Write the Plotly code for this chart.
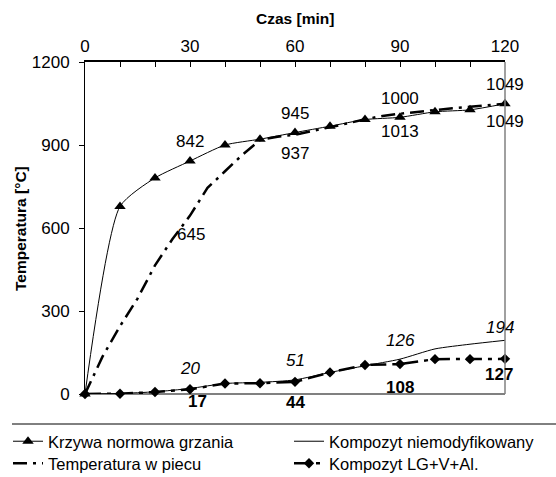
import plotly.graph_objects as go

# ---------------- data ----------------
time_iso = [0, 10, 20, 30, 40, 50, 60, 70, 80, 90, 100, 110, 120]
iso_curve = [0, 678, 781, 842, 900, 921, 945, 968, 992, 1000, 1020, 1027, 1049]

time_furnace = [0, 5, 10, 15, 20, 25, 30, 35, 40, 45, 50, 55, 60,
                65, 70, 75, 80, 85, 90, 95, 100, 105, 110, 115, 120]
furnace = [0, 135, 245, 345, 465, 560, 645, 745, 805, 865, 918, 930, 937,
           950, 965, 978, 993, 1005, 1013, 1020, 1027, 1033, 1038, 1044, 1049]

time_comp = [0, 10, 20, 30, 40, 50, 60, 70, 80, 90, 100, 110, 120]
comp_plain = [0, 2, 8, 20, 38, 42, 51, 78, 102, 126, 163, 180, 194]
comp_lg = [0, 1, 7, 17, 38, 39, 44, 78, 105, 108, 126, 126, 127]

x_ticks = [0, 30, 60, 90, 120]
y_ticks = [0, 300, 600, 900, 1200]

FONT = "Arial, Liberation Sans, sans-serif"
PL, PR, PT, PB = 85, 505, 62, 394          # plot area in pixels
PW, PH = PR - PL, PB - PT


def px_x(p):
    return (p - PL) / PW


def px_y(p):
    return (PB - p) / PH


fig = go.Figure()

fig.add_trace(go.Scatter(
    x=time_iso, y=iso_curve, name="Krzywa normowa grzania",
    mode="lines+markers", line=dict(color="black", width=1, shape="spline", smoothing=0.6),
    marker=dict(symbol="triangle-up", size=10, color="black"),
    cliponaxis=False, legend="legend"))
fig.add_trace(go.Scatter(
    x=time_furnace, y=furnace, name="Temperatura w piecu",
    mode="lines", line=dict(color="black", width=2.5, dash="14px,6px,3px,6px"),
    cliponaxis=False, legend="legend2"))
fig.add_trace(go.Scatter(
    x=time_comp, y=comp_plain, name="Kompozyt niemodyfikowany",
    mode="lines", line=dict(color="black", width=1, shape="spline", smoothing=0.6),
    cliponaxis=False, legend="legend3"))
fig.add_trace(go.Scatter(
    x=time_comp, y=comp_lg, name="Kompozyt LG+V+Al.",
    mode="lines+markers", line=dict(color="black", width=2.5, dash="16px,6px,4px,6px"),
    marker=dict(symbol="diamond", size=8, color="black"),
    cliponaxis=False, legend="legend4"))


# ---------------- data labels ----------------
def label(xs, ys, t, dy, dx=0, style="normal", weight="normal"):
    i = xs.index(t)
    fig.add_annotation(x=t, y=ys[i], text=str(ys[i]), showarrow=False,
                       xshift=dx, yshift=dy, xanchor="center", yanchor="middle",
                       font=dict(family=FONT, size=17, color="black",
                                 style=style, weight=weight))


label(time_iso, iso_curve, 30, 20)
label(time_iso, iso_curve, 60, 19)
label(time_iso, iso_curve, 90, 19)
label(time_iso, iso_curve, 120, 19)
label(time_furnace, furnace, 30, -19, 1)
label(time_furnace, furnace, 60, -19)
label(time_furnace, furnace, 90, -18)
label(time_furnace, furnace, 120, -18)
label(time_comp, comp_plain, 30, 20, 0, style="italic")
label(time_comp, comp_plain, 60, 19, 0, style="italic")
label(time_comp, comp_plain, 90, 19, 0, style="italic")
label(time_comp, comp_plain, 120, 13, -5, style="italic")
label(time_comp, comp_lg, 30, -12, 7, weight="bold")
label(time_comp, comp_lg, 60, -21, 0, weight="bold")
label(time_comp, comp_lg, 90, -23, 0, weight="bold")
label(time_comp, comp_lg, 120, -16, -6, weight="bold")

# axis titles
fig.add_annotation(text="<b>Czas [min]</b>", xref="paper", yref="paper",
                   x=0.5, y=px_y(19), showarrow=False,
                   xanchor="center", yanchor="middle",
                   font=dict(family=FONT, size=15.5, color="black"))
fig.add_annotation(text="<b>Temperatura [°C]</b>", xref="paper", yref="paper",
                   x=px_x(20), y=px_y(229), showarrow=False, textangle=-90,
                   xanchor="center", yanchor="middle",
                   font=dict(family=FONT, size=15.5, color="black"))

# right border and legend separator
fig.add_shape(type="line", xref="paper", yref="paper", x0=1, x1=1, y0=0, y1=1,
              line=dict(color="#808080", width=1.5))
fig.add_shape(type="line", xref="paper", yref="paper",
              x0=px_x(12), x1=px_x(556), y0=px_y(424), y1=px_y(424),
              line=dict(color="black", width=1))


def leg(left, top):
    return dict(x=px_x(left), y=px_y(top), xanchor="left", yanchor="top",
                font=dict(family=FONT, size=16.5, color="black"),
                bgcolor="rgba(0,0,0,0)", borderwidth=0)


fig.update_layout(
    width=556, height=477,
    margin=dict(l=PL, r=556 - PR, t=PT, b=477 - PB, autoexpand=False),
    paper_bgcolor="white", plot_bgcolor="white",
    font=dict(family=FONT, size=17, color="black"),
    showlegend=True,
    legend=leg(8, 424),
    legend2=leg(8, 446),
    legend3=leg(289, 424),
    legend4=leg(289, 446),
    xaxis=dict(range=[0, 120], side="top", tickvals=x_ticks, ticks="inside", ticklen=5,
               tickcolor="black", showline=True, linecolor="black", linewidth=1.5,
               showgrid=False, zeroline=False, tickfont=dict(size=17),
               ticklabelstandoff=1,
               minor=dict(dtick=10, ticks="inside", ticklen=5, tickcolor="black", showgrid=False)),
    yaxis=dict(range=[0, 1200], tickvals=y_ticks, ticks="outside", ticklen=5,
               tickcolor="black", showline=True, linecolor="black", linewidth=1,
               showgrid=False, zeroline=True, zerolinecolor="#808080", zerolinewidth=1.5,
               tickfont=dict(size=17), ticklabelstandoff=6),
)

fig.write_html("out.html")
